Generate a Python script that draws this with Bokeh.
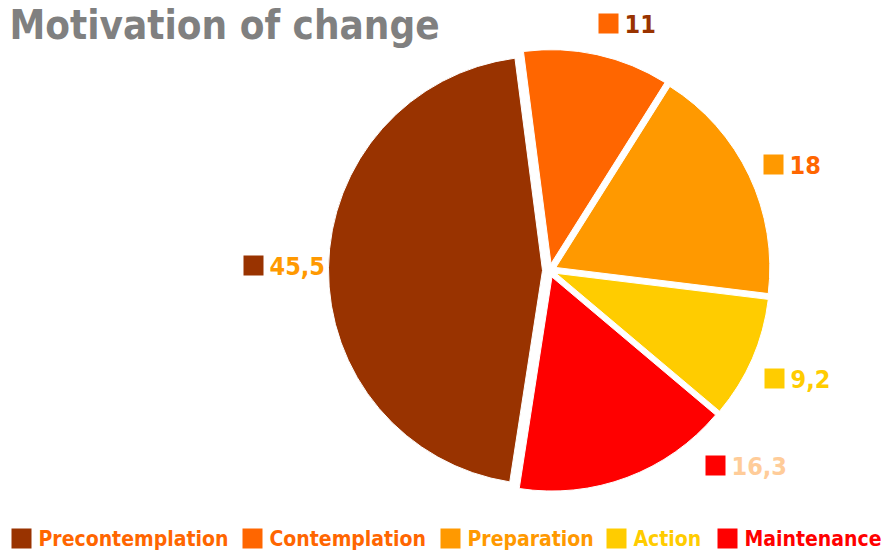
import math
from bokeh.plotting import figure
from bokeh.models import Range1d, ColumnDataSource
from bokeh.core.properties import value
from bokeh.embed import file_html
from bokeh.resources import INLINE

# ---- data ----
categories = ["Precontemplation", "Contemplation", "Preparation", "Action", "Maintenance"]
values = [45.5, 11, 18, 9.2, 16.3]
value_labels = ["45,5", "11", "18", "9,2", "16,3"]
title_text = "Motivation of change"

# ---- styles ----
colors = ["#993300", "#FF6600", "#FF9900", "#FFCC00", "#FF0000"]
label_text_colors = ["#FF9900", "#993300", "#FF6600", "#FFCC00", "#FFCC99"]
legend_text_colors = ["#FF6600", "#FF6600", "#FF9900", "#FFCC00", "#FF0000"]
FONT = "DejaVu Sans Condensed, Roboto"

W, H = 883, 555


def sx(x):
    return x


def sy(y):
    return H - y


# pie layout (screen coords)
cx, cy, R, D = 549, 270, 214, 7
start_deg = 188.8  # clockwise from 12 o'clock

total = sum(values)
wx, wy, sa, ea = [], [], [], []
cum = start_deg
for v in values:
    a0 = cum
    a1 = cum + v / total * 360.0
    mid = math.radians((a0 + a1) / 2)
    wx.append(sx(cx + D * math.sin(mid)))
    wy.append(sy(cy - D * math.cos(mid)))
    sa.append(math.radians(90 - a0))
    ea.append(math.radians(90 - a1))
    cum = a1

p = figure(width=W, height=H, x_range=Range1d(0, W), y_range=Range1d(0, H),
           output_backend="svg", toolbar_location=None, min_border=0)
p.axis.visible = False
p.grid.visible = False
p.outline_line_color = None
p.background_fill_color = "white"
p.border_fill_color = "white"

src = ColumnDataSource(dict(x=wx, y=wy, sa=sa, ea=ea, color=colors, cat=categories))
p.wedge(x="x", y="y", radius=R, start_angle="sa", end_angle="ea", direction="clock",
        fill_color="color", line_color="white", line_width=1, source=src)

# value labels (square + text); anchor = square left, vertical centre
lab_sq_left = [243, 598, 763, 764, 705]
lab_mid = [265, 23, 164, 378, 465]
SQ = 20
lsrc = ColumnDataSource(dict(
    qx=[sx(x + SQ / 2) for x in lab_sq_left],
    qy=[sy(m) for m in lab_mid],
    tx=[sx(x + SQ + 6) for x in lab_sq_left],
    ty=[sy(m) for m in lab_mid],
    txt=value_labels, sq=colors, tc=label_text_colors))
p.rect(x="qx", y="qy", width=SQ, height=SQ, fill_color="sq", line_color=None, source=lsrc)
p.text(x="tx", y="ty", text="txt", text_color="tc", text_font=value(FONT),
       text_font_size="25px", text_font_style="bold", text_baseline="middle",
       source=lsrc)

# legend
leg_sq_left = [11, 242, 440, 606, 717]
leg_mid = 538
gsrc = ColumnDataSource(dict(
    qx=[sx(x + SQ / 2) for x in leg_sq_left],
    qy=[sy(leg_mid) for _ in leg_sq_left],
    tx=[sx(x + SQ + 7) for x in leg_sq_left],
    ty=[sy(leg_mid) for _ in leg_sq_left],
    txt=categories, sq=colors, tc=legend_text_colors))
p.rect(x="qx", y="qy", width=SQ, height=SQ, fill_color="sq", line_color=None, source=gsrc)
p.text(x="tx", y="ty", text="txt", text_color="tc", text_font=value(FONT),
       text_font_size="21px", text_font_style="bold", text_baseline="middle",
       source=gsrc)

# title
p.text(x=[sx(9)], y=[sy(24)], text=[title_text], text_color="#808080",
       text_font=value(FONT), text_font_size="40px", text_font_style="bold",
       text_baseline="middle")

open("out.html", "w").write(file_html(p, INLINE))
